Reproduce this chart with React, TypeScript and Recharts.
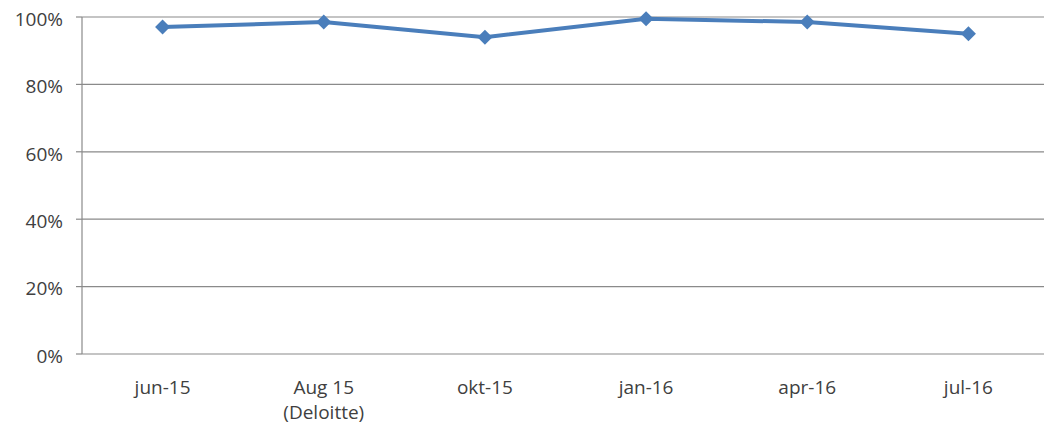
import { LineChart, Line, XAxis, YAxis, CartesianGrid } from 'recharts';

const CATEGORIES = ['jun-15', 'Aug 15\n(Deloitte)', 'okt-15', 'jan-16', 'apr-16', 'jul-16'];
const VALUES = [97, 98.5, 94, 99.5, 98.5, 95];
const Y_TICKS = [0, 20, 40, 60, 80, 100];
const BOUNDARY_TICKS = [0, 1, 2, 3, 4, 5, 6];
const LABEL_TICKS = [0.5, 1.5, 2.5, 3.5, 4.5, 5.5];

const FONT = '"Open Sans", sans-serif';
const TEXT = '#404040';
const GRID = '#8a8a8a';
const BLUE = '#4a7ebb';

const data = VALUES.map((v, i) => ({ x: i + 0.5, value: v }));

const CategoryTick = (props: any) => {
  const { x, y, payload } = props;
  const lines = CATEGORIES[Math.floor(payload.value)].split('\n');
  return (
    <g>
      {lines.map((l, i) => (
        <text key={i} x={x} y={y + 40 + i * 25} textAnchor="middle" fill={TEXT} fontFamily={FONT} fontSize={19}>
          {l}
        </text>
      ))}
    </g>
  );
};

const Diamond = (props: any) => {
  const { cx, cy, index } = props;
  const r = 7.5;
  return (
    <polygon
      key={index}
      points={`${cx},${cy - r} ${cx + r},${cy} ${cx},${cy + r} ${cx - r},${cy}`}
      fill={BLUE}
    />
  );
};

export default function App() {
  return (
    <div style={{ position: 'absolute', left: 0, top: 0, width: 1044, height: 428, overflow: 'hidden', background: '#fff' }}>
      <LineChart width={1060} height={428} data={data} margin={{ top: 17, right: 11, bottom: 0, left: 0 }}>
        <CartesianGrid vertical={false} stroke={GRID} strokeWidth={1.2} />
        <XAxis
          xAxisId="grid"
          dataKey="x"
          type="number"
          domain={[0, 6]}
          ticks={BOUNDARY_TICKS}
          tick={false}
          tickSize={6}
          height={0}
          stroke={GRID}
          strokeWidth={1.2}
        />
        <XAxis
          xAxisId="labels"
          dataKey="x"
          type="number"
          domain={[0, 6]}
          ticks={LABEL_TICKS}
          tick={<CategoryTick />}
          tickLine={false}
          axisLine={false}
          tickSize={0}
          tickMargin={0}
          height={74}
          interval={0}
        />
        <YAxis
          domain={[0, 100]}
          ticks={Y_TICKS}
          tickFormatter={(v) => `${v}%`}
          width={82}
          tickSize={6}
          tickMargin={13}
          stroke={GRID}
          strokeWidth={1.2}
          tick={{ fill: TEXT, fontFamily: FONT, fontSize: 19, dy: 2 }}
        />
        <Line
          xAxisId="grid"
          type="linear"
          dataKey="value"
          stroke={BLUE}
          strokeWidth={4}
          dot={<Diamond />}
          activeDot={false}
          isAnimationActive={false}
        />
      </LineChart>
    </div>
  );
}
